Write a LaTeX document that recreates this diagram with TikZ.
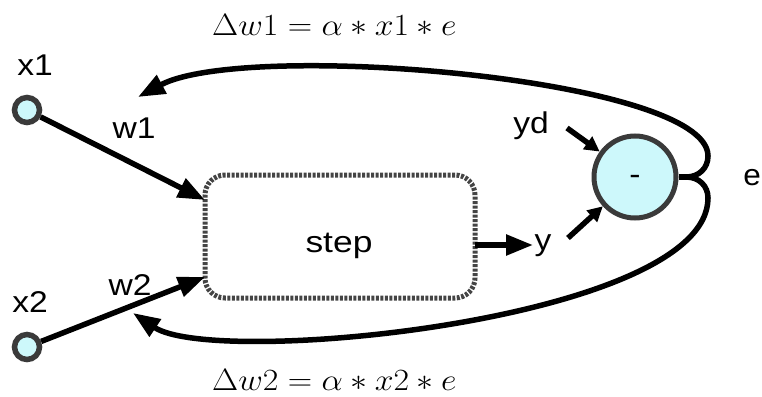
\documentclass[tikz,border=0pt]{standalone}
\usepackage{fontspec}
\setmainfont{Liberation Sans}
\usetikzlibrary{arrows.meta}
\definecolor{lightcyan}{HTML}{CDF8FB}
\definecolor{ringgray}{HTML}{3A3A3A}
\definecolor{boxgray}{HTML}{444444}
\begin{document}
\begin{tikzpicture}[x=1pt,y=-1pt,
  lbl/.style={font=\fontsize{30}{35}\selectfont, inner sep=0pt, anchor=base},
  mathlbl/.style={font=\fontsize{24.88}{30}\selectfont, inner sep=0pt, anchor=base west},
  inp/.style={circle, draw=ringgray, fill=lightcyan, line width=5.5pt, minimum size=25pt, inner sep=0pt},
  sumnode/.style={circle, draw=ringgray, fill=lightcyan, line width=5pt, minimum size=82pt, inner sep=0pt},
  stepbox/.style={draw=boxgray, line width=5pt, dash pattern=on 3pt off 1.5pt, rounded corners=20pt,
    minimum width=270pt, minimum height=123pt, inner sep=0pt},
  big/.style={line width=5.5pt, -{Triangle[length=27pt,width=20pt]}},
  small/.style={line width=5.5pt, -{Triangle[length=15pt,width=15pt]}},
]
\useasboundingbox (0,0) rectangle (762,396);

% nodes
\node[inp] (x1) at (27,110) {};
\node[inp] (x2) at (27,347) {};
\node[stepbox] (box) at (340,236.5) {};
\node[sumnode] (sum) at (635,177) {};

% labels
\node[lbl] (lx1) at (35,75) {\scalebox{1.12}[1]{x1}};
\node[lbl] (lx2) at (30,312) {\scalebox{1.12}[1]{x2}};
\node[lbl] (lw1) at (134,138) {\scalebox{1.12}[1]{w1}};
\node[lbl] (lw2) at (130,295) {\scalebox{1.12}[1]{w2}};
\node[lbl] (lstep) at (339,252) {\scalebox{1.18}[1]{step}};
\node[lbl] (lyd) at (531,133) {\scalebox{1.12}[1]{yd}};
\node[lbl] (ly) at (543,250) {\scalebox{1.12}[1]{y}};
\node[lbl] (le) at (752,185) {\scalebox{1.05}[1]{e}};
\node[lbl] (lminus) at (635,184) {\scalebox{1.12}[1]{-}};
\node[mathlbl] (dw1) at (212,36) {\scalebox{1.36}[1.24]{$\Delta w1 = \alpha \ast x1 \ast e$}};
\node[mathlbl] (dw2) at (212,390) {\scalebox{1.36}[1.24]{$\Delta w2 = \alpha \ast x2 \ast e$}};

% coordinates
\coordinate (in1) at (205,200);
\coordinate (in2) at (205,277);
\coordinate (bout) at (475,245);
\coordinate (ytip) at (533,245);
\coordinate (yds) at (567,128);
\coordinate (ys) at (568,238);
\coordinate (j) at (686,177);
\coordinate (jt) at (708,156);
\coordinate (jb) at (708,198);
\coordinate (fb1) at (138,97);
\coordinate (fb2) at (133,313);

% connectors
\draw[big] (x1) -- (in1);
\draw[big] (x2) -- (in2);
\draw[big] (bout) -- (ytip);
\draw[small] (yds) -- (sum);
\draw[small] (ys) -- (sum);
\draw[line width=5.5pt] (sum.east) -- (j);
\draw[big] (j) .. controls (699,177) and (708,168) .. (jt)
  .. controls (708,78) and (245,40) .. (fb1);
\draw[big] (j) .. controls (699,177) and (708,186) .. (jb)
  .. controls (708,320) and (215,368) .. (fb2);
\end{tikzpicture}
\end{document}
